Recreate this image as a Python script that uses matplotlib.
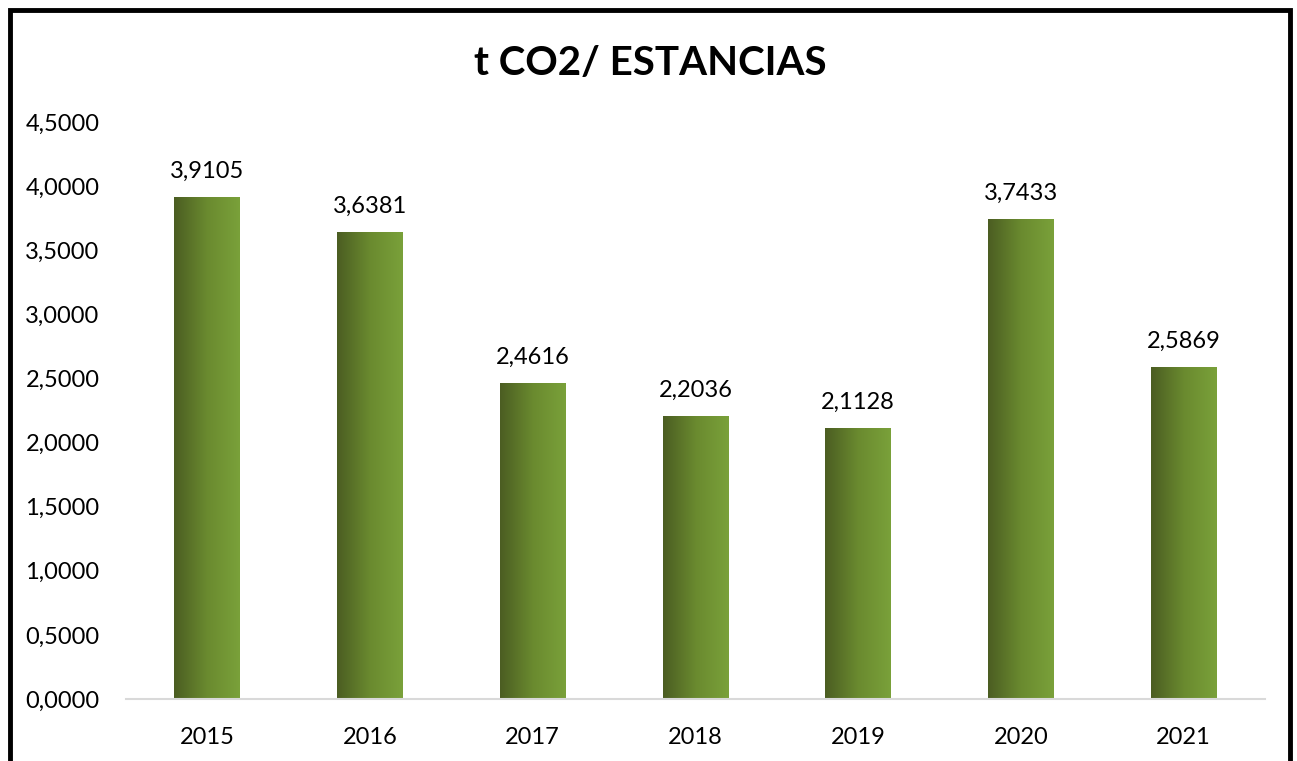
import matplotlib
matplotlib.use("Agg")
import matplotlib.pyplot as plt
import numpy as np
from matplotlib.colors import LinearSegmentedColormap
from matplotlib.patches import Rectangle

years = ["2015", "2016", "2017", "2018", "2019", "2020", "2021"]
values = [3.9105, 3.6381, 2.4616, 2.2036, 2.1128, 3.7433, 2.5869]
title = "t CO2/ ESTANCIAS"

plt.rcParams['font.family'] = ['Lato', 'DejaVu Sans']

fig = plt.figure(figsize=(12.97, 7.61), dpi=100)
fig.patch.set_facecolor('white')
ax = fig.add_axes([0.0971, 0.0815, 0.8782, 0.7582])

x = np.arange(len(years))
bw = 0.405
cmap = LinearSegmentedColormap.from_list("g", ["#4b5d22", "#6a8a2f", "#7aa13a"])
grad = np.linspace(0, 1, 256).reshape(1, -1)
bars = ax.bar(x, values, width=bw, color='none', edgecolor='none')
for b in bars:
    x0, w, h = b.get_x(), b.get_width(), b.get_height()
    ax.imshow(grad, cmap=cmap, extent=[x0, x0 + w, 0, h], aspect='auto', zorder=2)
for xi, v in zip(x, values):
    ax.text(xi, v + 0.12, f"{v:.4f}".replace('.', ','), ha='center', va='bottom', fontsize=17, color='#000000')

ax.set_xlim(-0.5, len(years) - 0.5)
ax.set_ylim(0, 4.5)
ax.set_yticks(np.arange(0, 4.51, 0.5))
ax.set_yticklabels([f"{t:.4f}".replace('.', ',') for t in np.arange(0, 4.51, 0.5)])
ax.set_xticks(x)
ax.set_xticklabels(years)
ax.tick_params(axis='both', length=0, labelsize=17, colors='#000000')
ax.tick_params(axis='x', pad=20)
ax.tick_params(axis='y', pad=19)
for s in ['top', 'right', 'left']:
    ax.spines[s].set_visible(False)
ax.spines['bottom'].set_color('#d9d9d9')
ax.spines['bottom'].set_linewidth(1.5)
ax.set_facecolor('white')

fig.text(0.5015, 0.916, title, ha='center', va='center', fontsize=29, fontweight='bold')

border = Rectangle((10 / 1297, -0.05), (1290 - 10) / 1297, 1 - 10 / 761 + 0.05,
                   transform=fig.transFigure, fill=False, edgecolor='black', linewidth=3.5, clip_on=False)
fig.patches.append(border)

fig.savefig("out.png", dpi=100, facecolor='white')
